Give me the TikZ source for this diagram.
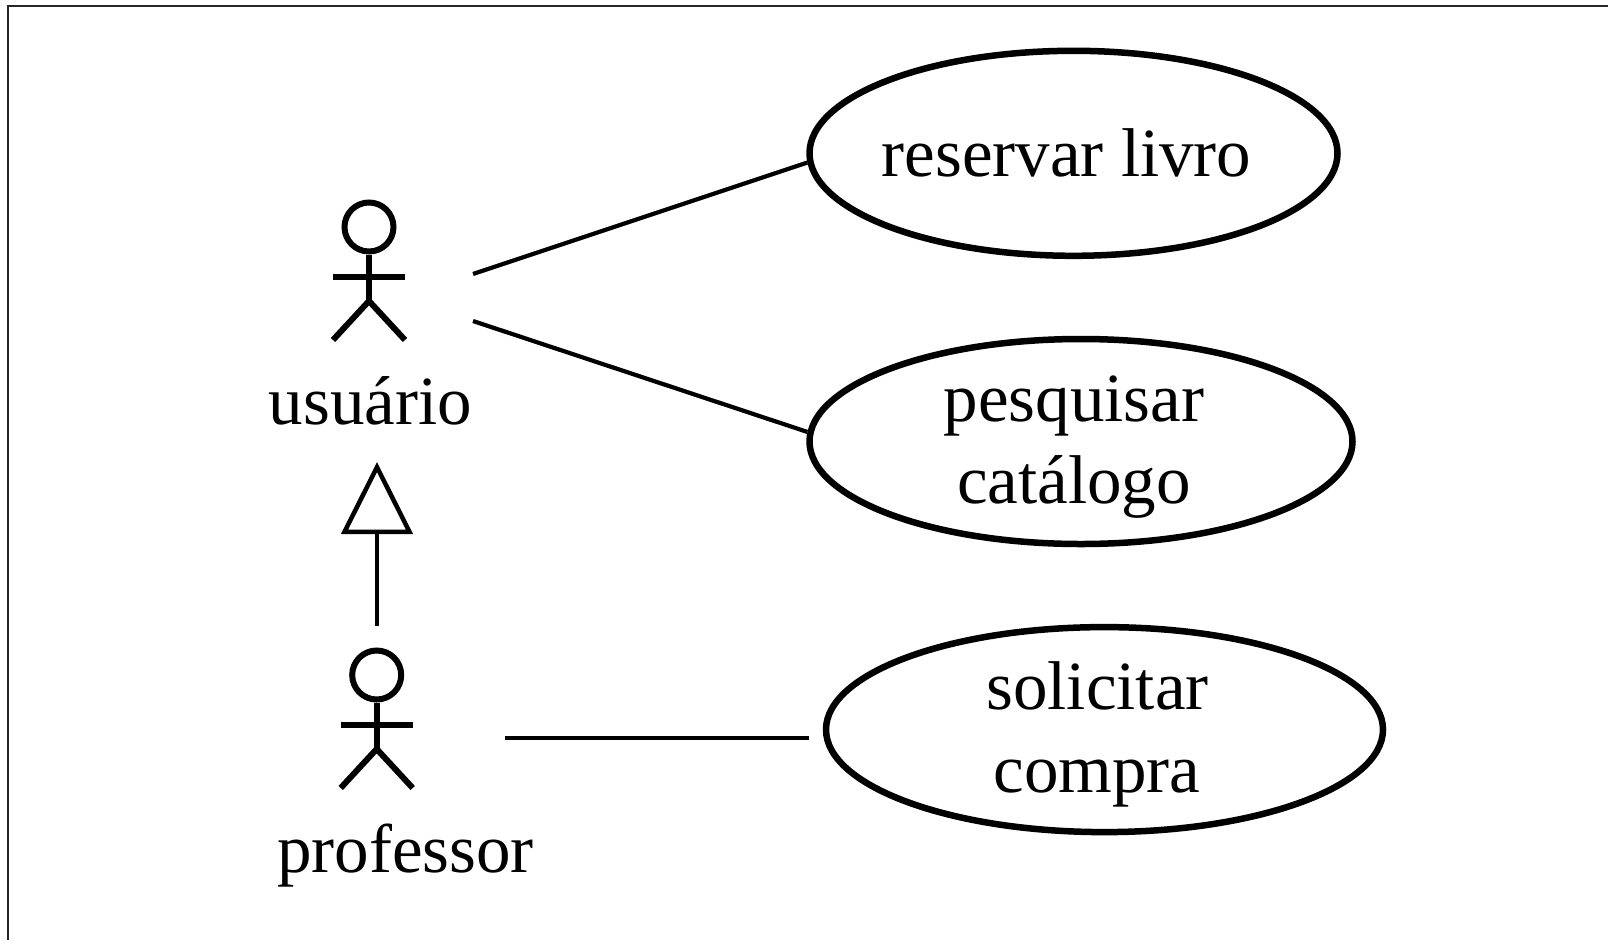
\documentclass[tikz,border=0pt]{standalone}
\usepackage{fontspec}
\setmainfont{Liberation Serif}
\usetikzlibrary{arrows.meta,shapes.geometric}
\tikzset{
  usecase/.style={draw=black,line width=6.5pt,ellipse,inner sep=0pt,minimum width=#1,minimum height=205pt},
  txt/.style={anchor=base,inner sep=0pt,font=\fontsize{69}{69}\selectfont},
  actorline/.style={draw=black,line width=6pt},
  link/.style={draw=black,line width=4.2pt},
  frameline/.style={draw=black!85,line width=2pt},
}
\newcommand{\actorfig}[3]{%
  \begin{scope}[shift={(#1,#2)}]
    \node[actorline,circle,inner sep=0pt,minimum size=49pt] (#3head) at (0,0) {};
    \coordinate (#3hip) at (0,74);
    \coordinate (#3al) at (-36,50);
    \coordinate (#3ar) at (36,50);
    \coordinate (#3ll) at (-36,113);
    \coordinate (#3lr) at (36,113);
    \draw[actorline] (#3head) -- (#3hip);
    \draw[actorline] (#3al) -- (#3ar);
    \draw[actorline,line join=miter] (#3ll) -- (#3hip) -- (#3lr);
  \end{scope}}
\begin{document}
\begin{tikzpicture}[x=1pt,y=-1pt]
\useasboundingbox (0,0) rectangle (1608,940);
\coordinate (fa) at (7.5,940);
\coordinate (fb) at (7.5,5.5);
\coordinate (fc) at (1608,5.5);
\draw[frameline] (fa) -- (fb) -- (fc);

\actorfig{369}{227}{ua}
\actorfig{376.7}{675}{pa}

\node[usecase=528pt] (e1) at (1073.5,153.3) {};
\node[usecase=543pt] (e2) at (1081,441.5) {};
\node[usecase=557pt] (e3) at (1104.5,729.6) {};

\node[txt] (lu) at (370.5,424) {usuário};
\node[txt] (lp) at (405.5,872) {professor};
\node[txt] (t1) at (1066.5,176) {reservar livro};
\node[txt] (t2a) at (1074,421.5) {pesquisar};
\node[txt] (t2b) at (1074,503.5) {catálogo};
\node[txt] (t3a) at (1097.5,709.6) {solicitar};
\node[txt] (t3b) at (1097,792.7) {compra};

\coordinate (c1) at (473,274);
\coordinate (c2) at (473,321);
\coordinate (c3) at (505,737.7);
\coordinate (c3e) at (809,737.7);
\coordinate (gs) at (377,626);
\coordinate (gt) at (377,462);
\draw[link] (c1) -- (e1.182.2);
\draw[link] (c2) -- (e2.178.4);
\draw[link] (c3) -- (c3e);
\draw[link,-{Triangle[open,length=72pt,width=71pt,line width=4.5pt]}] (gs) -- (gt);
\end{tikzpicture}
\end{document}
